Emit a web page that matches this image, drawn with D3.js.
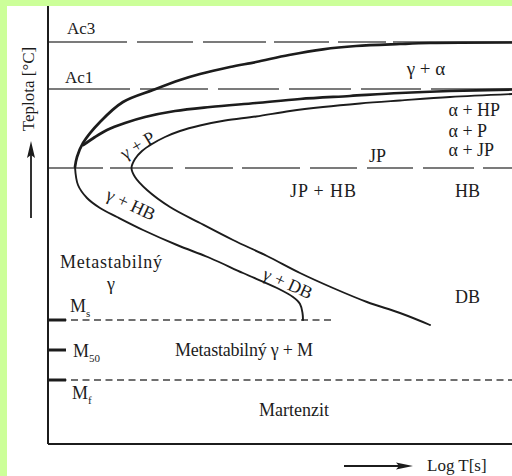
<!DOCTYPE html>
<html><head><meta charset="utf-8">
<script src="https://cdn.jsdelivr.net/npm/d3@7"></script>
<style>html,body{margin:0;padding:0;background:#fff;}svg{display:block;}
text{font-family:"Liberation Serif","DejaVu Serif","Noto Serif","Times New Roman",serif;}</style>
</head><body>
<svg id="c" width="512" height="476"></svg>
<script>
// ---- data (units: x = log-time units, y = temperature units; origin at axis corner) ----
const refLevels = [402, 355, 276];            // Ac3, Ac1, nose (bainite/pearlite limit)
const martLevels = [124, 64];                  // Ms, Mf
const martTicks  = [124, 94, 64];              // Ms, M50, Mf

// outer start curve (upper branch, right -> nose)
const outerUpperX = [464, 382, 352, 308, 275, 241, 208, 182, 152, 132, 105, 75, 52, 35, 29, 27];
const outerUpperY = [401.5, 401, 400, 398, 394.7, 389, 382, 377, 370, 364, 354, 342, 322, 301, 287, 277];
// outer start curve (lower branch, nose -> Ms)
const outerLowerX = [27, 30, 39, 52, 69, 95, 129, 162, 195, 229, 245, 252, 254.5, 255];
const outerLowerY = [277, 259, 246, 236, 227, 214, 199, 186, 171, 156, 147, 140, 131, 124];
// middle curve (pearlite start)
const midX = [35.5, 47, 59, 77, 97, 127, 162, 208, 252, 302, 352, 402, 464];
const midY = [299, 307, 314, 321, 327, 333, 337, 341, 345, 348, 351, 353, 354.5];
// inner end curve (upper branch right -> nose, then lower branch)
const innerX = [464, 402, 352, 312, 275, 242, 208, 177, 152, 132, 117, 104, 94, 87, 83.5, 87, 99, 122, 152, 185, 219, 252, 285, 319, 352, 382];
const innerY = [350, 347, 343.5, 340.5, 337, 333, 327.5, 323.5, 318.5, 313, 307, 300, 293, 285, 276, 267, 254, 237, 221, 204, 188, 171, 156, 142, 131, 119];

const plainLabels = ["Ac3", "Ac1", "γ + α", "α + HP", "α + P", "α + JP", "JP", "JP + HB", "HB", "DB",
                     "Metastabilný", "γ", "Metastabilný γ + M", "Martenzit"];
const rotLabels = ["γ + P", "γ + HB", "γ + DB"];
const martLabels = [["M", "s"], ["M", "50"], ["M", "f"]];
const yTitle = "Teplota [°C]";
const xTitle = "Log T[s]";

// ---- layout ----
const W = 512, H = 476;
const x = d3.scaleLinear().domain([0, 464]).range([48, 512]);
const y = d3.scaleLinear().domain([0, 438]).range([444, 6]);
const svg = d3.select("#c");
const ink = "#1c1c1c";

svg.append("rect").attr("width", W).attr("height", H).attr("fill", "#ccff99");
svg.append("rect").attr("x", 7).attr("y", 6).attr("width", W - 7).attr("height", H - 6).attr("fill", "#fff");

// reference long-dash lines (hand-drawn irregular dashes)
const longDash = ["79,10,56,10,63,8,55,9,48,7,119",
                  "82,10,68,10,61,10,62,10,60,10,81",
                  "55,7,63,12,48,9,58,10,47,10,46,10,51,9,29"];
refLevels.forEach((v, i) => {
  svg.append("line").attr("x1", x(0)).attr("x2", x(464)).attr("y1", y(v)).attr("y2", y(v))
    .attr("stroke", "#505050").attr("stroke-width", 1.6).attr("stroke-dasharray", longDash[i]);
});
// martensite short-dash lines
const martEnd = [284, 464];
martLevels.forEach((v, i) => {
  svg.append("line").attr("x1", x(0)).attr("x2", x(martEnd[i])).attr("y1", y(v)).attr("y2", y(v))
    .attr("stroke", "#404040").attr("stroke-width", 1.6).attr("stroke-dasharray", "7,4.5");
});
martTicks.forEach(v => {
  svg.append("line").attr("x1", x(0)).attr("x2", x(18)).attr("y1", y(v)).attr("y2", y(v))
    .attr("stroke", ink).attr("stroke-width", 3);
});

// axes
svg.append("line").attr("x1", x(0)).attr("x2", x(0)).attr("y1", y(438)).attr("y2", y(0))
  .attr("stroke", ink).attr("stroke-width", 2);
svg.append("line").attr("x1", x(0)).attr("x2", x(464)).attr("y1", y(0)).attr("y2", y(0))
  .attr("stroke", ink).attr("stroke-width", 2);

// curves
const line = d3.line().x(d => x(d[0])).y(d => y(d[1])).curve(d3.curveCatmullRom.alpha(0.5));
const zip = (a, b) => a.map((v, i) => [v, b[i]]);
function curve(xs, ys, w) {
  svg.append("path").attr("d", line(zip(xs, ys))).attr("fill", "none")
    .attr("stroke", ink).attr("stroke-width", w).attr("stroke-linecap", "round");
}
curve(outerUpperX, outerUpperY, 2.7);
curve(outerLowerX, outerLowerY, 1.9);
curve(midX, midY, 2.7);
curve(innerX, innerY, 1.9);

// labels
const plainPos = [[19, 410, "start"], [17, 361, "start"], [378, 369, "middle"], [400.5, 328, "start"],
  [400.5, 307.5, "start"], [400.5, 288, "start"], [321, 282, "start"], [242, 247, "start"],
  [407, 247, "start"], [407, 141.5, "start"], [12, 176.5, "start"], [63, 154, "middle"],
  [127, 88, "start"], [211, 28, "start"]];
const plainSize = [17, 17, 19, 18, 18, 18, 18, 18, 18, 18, 18, 18, 18, 18];
const plainLen = {7: 66, 10: 102, 12: 138};
plainLabels.forEach((t, i) => {
  const p = plainPos[i];
  const el = svg.append("text").attr("x", x(p[0])).attr("y", y(p[1])).attr("text-anchor", p[2])
    .attr("font-size", plainSize[i]).attr("fill", ink).text(t);
  if (plainLen[i]) el.attr("textLength", plainLen[i]).attr("lengthAdjust", "spacing");
});
const rotPos = [[89.5, 299, -31], [83, 240, 25], [240, 161, 24]];
rotLabels.forEach((t, i) => {
  const p = rotPos[i];
  svg.append("text").attr("transform", `translate(${x(p[0])},${y(p[1])}) rotate(${p[2]})`)
    .attr("text-anchor", "middle").attr("dy", "0.35em")
    .attr("font-size", 18).attr("fill", ink).text(t);
});
const martPos = [[22, 132], [25, 87.5], [24, 45]];
martLabels.forEach((m, i) => {
  const t = svg.append("text").attr("x", x(martPos[i][0])).attr("y", y(martPos[i][1]))
    .attr("font-size", 18).attr("fill", ink);
  t.append("tspan").text(m[0]);
  t.append("tspan").attr("dy", 5).attr("font-size", 11).text(m[1]);
});

// axis titles with arrows
svg.append("text").attr("transform", "translate(34,89) rotate(-90)").attr("text-anchor", "middle")
  .attr("font-size", 17).attr("fill", ink).text(yTitle);
svg.append("line").attr("x1", 31).attr("x2", 31).attr("y1", 218).attr("y2", 152)
  .attr("stroke", ink).attr("stroke-width", 1.8);
svg.append("path").attr("d", "M31,141 L35,158 L31,155 L27,158 Z").attr("fill", ink);

svg.append("text").attr("x", 427).attr("y", 470.5)
  .attr("font-size", 17).attr("fill", ink).text(xTitle);
svg.append("line").attr("x1", 344).attr("x2", 402).attr("y1", 466).attr("y2", 466)
  .attr("stroke", ink).attr("stroke-width", 1.8);
svg.append("path").attr("d", "M413,466 L396,462.5 L399,466 L396,469.5 Z").attr("fill", ink);
</script>
</body></html>
